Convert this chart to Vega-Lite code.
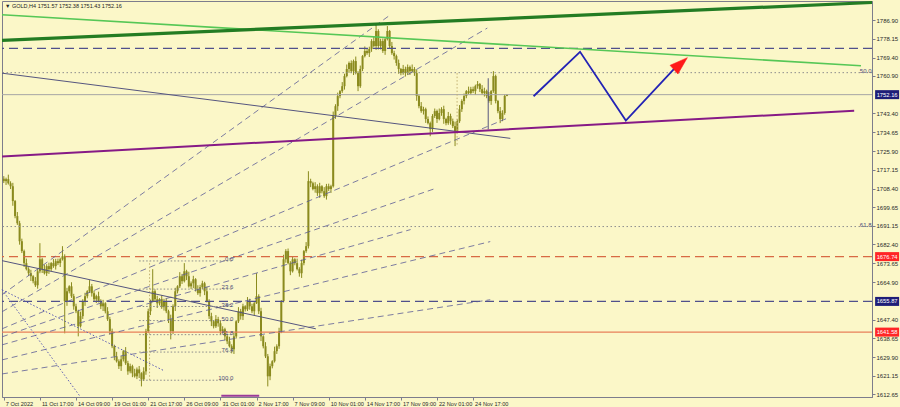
{
  "$schema": "https://vega.github.io/schema/vega-lite/v6.json",
  "width": 900,
  "height": 407,
  "autosize": {"type": "fit", "contains": "padding"},
  "padding": 0,
  "background": "#FBF7C8",
  "config": {
    "view": {"stroke": "#7d7d8c", "strokeWidth": 1},
    "axis": {"title": null, "grid": false, "labelFont": "Liberation Sans", "labelFontSize": 6, "labelColor": "#2a2a2a", "domainColor": "#7d7d8c", "tickColor": "#7d7d8c", "tickSize": 3, "labelOverlap": false},
    "axisX": {"labelFontSize": 5.6},
    "text": {"font": "Liberation Sans"}
  },
  "datasets": {
    "bars": [
      {"i":0,"o":1713.0,"h":1714.2,"l":1711.0,"c":1711.9},
      {"i":1,"o":1711.9,"h":1713.5,"l":1710.1,"c":1712.8},
      {"i":2,"o":1712.8,"h":1714.9,"l":1710.3,"c":1710.9},
      {"i":3,"o":1710.9,"h":1711.8,"l":1708.2,"c":1709.5},
      {"i":4,"o":1709.5,"h":1711.1,"l":1700.4,"c":1702.6},
      {"i":5,"o":1702.6,"h":1703.1,"l":1694.6,"c":1695.6},
      {"i":6,"o":1695.6,"h":1697.5,"l":1691.5,"c":1692.3},
      {"i":7,"o":1692.3,"h":1693.4,"l":1682.3,"c":1683.9},
      {"i":8,"o":1683.9,"h":1685.1,"l":1678.4,"c":1679.3},
      {"i":9,"o":1679.3,"h":1680.0,"l":1671.9,"c":1673.7},
      {"i":10,"o":1673.7,"h":1675.8,"l":1670.3,"c":1670.9},
      {"i":11,"o":1670.9,"h":1671.8,"l":1667.7,"c":1669.0},
      {"i":12,"o":1669.0,"h":1670.6,"l":1665.4,"c":1667.6},
      {"i":13,"o":1667.6,"h":1668.1,"l":1664.3,"c":1665.3},
      {"i":14,"o":1665.3,"h":1667.2,"l":1662.6,"c":1663.4},
      {"i":15,"o":1663.4,"h":1671.0,"l":1661.8,"c":1669.9},
      {"i":16,"o":1669.9,"h":1683.0,"l":1669.0,"c":1675.5},
      {"i":17,"o":1675.5,"h":1676.2,"l":1669.1,"c":1670.9},
      {"i":18,"o":1670.9,"h":1673.0,"l":1668.4,"c":1669.0},
      {"i":19,"o":1669.0,"h":1673.2,"l":1667.7,"c":1672.3},
      {"i":20,"o":1672.3,"h":1673.9,"l":1668.7,"c":1670.9},
      {"i":21,"o":1670.9,"h":1674.2,"l":1669.9,"c":1673.7},
      {"i":22,"o":1673.7,"h":1675.6,"l":1671.5,"c":1672.3},
      {"i":23,"o":1672.3,"h":1675.7,"l":1670.7,"c":1674.6},
      {"i":24,"o":1674.6,"h":1675.8,"l":1672.8,"c":1673.7},
      {"i":25,"o":1673.7,"h":1676.2,"l":1671.9,"c":1675.5},
      {"i":26,"o":1675.5,"h":1681.6,"l":1674.9,"c":1676.9},
      {"i":27,"o":1676.9,"h":1677.8,"l":1641.0,"c":1656.0},
      {"i":28,"o":1656.0,"h":1662.2,"l":1653.8,"c":1660.6},
      {"i":29,"o":1660.6,"h":1663.4,"l":1659.6,"c":1662.9},
      {"i":30,"o":1662.9,"h":1664.8,"l":1657.5,"c":1658.3},
      {"i":31,"o":1658.3,"h":1659.4,"l":1652.0,"c":1653.6},
      {"i":32,"o":1653.6,"h":1654.8,"l":1650.4,"c":1651.3},
      {"i":33,"o":1651.3,"h":1652.0,"l":1639.6,"c":1644.3},
      {"i":34,"o":1644.3,"h":1651.1,"l":1643.7,"c":1649.0},
      {"i":35,"o":1649.0,"h":1656.9,"l":1647.7,"c":1656.0},
      {"i":36,"o":1656.0,"h":1659.9,"l":1653.8,"c":1658.3},
      {"i":37,"o":1658.3,"h":1661.1,"l":1657.3,"c":1660.6},
      {"i":38,"o":1660.6,"h":1665.8,"l":1659.8,"c":1662.9},
      {"i":39,"o":1662.9,"h":1664.0,"l":1658.1,"c":1659.7},
      {"i":40,"o":1659.7,"h":1660.9,"l":1656.0,"c":1656.9},
      {"i":41,"o":1656.9,"h":1659.0,"l":1655.1,"c":1658.3},
      {"i":42,"o":1658.3,"h":1660.4,"l":1655.4,"c":1656.0},
      {"i":43,"o":1656.0,"h":1656.9,"l":1652.3,"c":1653.6},
      {"i":44,"o":1653.6,"h":1656.6,"l":1651.4,"c":1655.0},
      {"i":45,"o":1655.0,"h":1655.5,"l":1650.3,"c":1651.3},
      {"i":46,"o":1651.3,"h":1653.2,"l":1646.8,"c":1647.6},
      {"i":47,"o":1647.6,"h":1648.7,"l":1640.4,"c":1642.0},
      {"i":48,"o":1642.0,"h":1643.2,"l":1634.1,"c":1635.0},
      {"i":49,"o":1635.0,"h":1635.7,"l":1628.5,"c":1630.3},
      {"i":50,"o":1630.3,"h":1632.4,"l":1627.4,"c":1628.0},
      {"i":51,"o":1628.0,"h":1628.9,"l":1624.4,"c":1625.7},
      {"i":52,"o":1625.7,"h":1630.5,"l":1623.5,"c":1628.9},
      {"i":53,"o":1628.9,"h":1633.2,"l":1627.9,"c":1632.7},
      {"i":54,"o":1632.7,"h":1634.6,"l":1626.3,"c":1627.1},
      {"i":55,"o":1627.1,"h":1628.2,"l":1621.7,"c":1623.3},
      {"i":56,"o":1623.3,"h":1626.9,"l":1622.4,"c":1625.7},
      {"i":57,"o":1625.7,"h":1626.4,"l":1620.6,"c":1622.4},
      {"i":58,"o":1622.4,"h":1624.5,"l":1620.4,"c":1621.0},
      {"i":59,"o":1621.0,"h":1625.1,"l":1619.7,"c":1624.2},
      {"i":60,"o":1624.2,"h":1625.8,"l":1620.2,"c":1622.4},
      {"i":61,"o":1622.4,"h":1622.9,"l":1616.3,"c":1619.6},
      {"i":62,"o":1619.6,"h":1625.2,"l":1618.8,"c":1623.3},
      {"i":63,"o":1623.3,"h":1643.1,"l":1621.7,"c":1642.0},
      {"i":64,"o":1642.0,"h":1652.5,"l":1641.1,"c":1651.3},
      {"i":65,"o":1651.3,"h":1656.7,"l":1649.5,"c":1656.0},
      {"i":66,"o":1656.0,"h":1670.9,"l":1655.4,"c":1660.6},
      {"i":67,"o":1660.6,"h":1661.5,"l":1655.6,"c":1656.9},
      {"i":68,"o":1656.9,"h":1658.5,"l":1652.8,"c":1655.0},
      {"i":69,"o":1655.0,"h":1657.4,"l":1654.0,"c":1656.9},
      {"i":70,"o":1656.9,"h":1658.8,"l":1652.4,"c":1653.2},
      {"i":71,"o":1653.2,"h":1657.1,"l":1651.6,"c":1656.0},
      {"i":72,"o":1656.0,"h":1657.2,"l":1650.4,"c":1651.3},
      {"i":73,"o":1651.3,"h":1652.0,"l":1645.8,"c":1647.6},
      {"i":74,"o":1647.6,"h":1649.7,"l":1638.2,"c":1642.0},
      {"i":75,"o":1642.0,"h":1654.5,"l":1640.7,"c":1653.6},
      {"i":76,"o":1653.6,"h":1662.2,"l":1651.4,"c":1660.6},
      {"i":77,"o":1660.6,"h":1663.4,"l":1659.6,"c":1662.9},
      {"i":78,"o":1662.9,"h":1669.5,"l":1662.1,"c":1667.6},
      {"i":79,"o":1667.6,"h":1668.7,"l":1664.0,"c":1665.3},
      {"i":80,"o":1665.3,"h":1673.7,"l":1664.7,"c":1669.9},
      {"i":81,"o":1669.9,"h":1670.6,"l":1665.8,"c":1667.6},
      {"i":82,"o":1667.6,"h":1669.7,"l":1662.3,"c":1662.9},
      {"i":83,"o":1662.9,"h":1665.2,"l":1661.6,"c":1664.3},
      {"i":84,"o":1664.3,"h":1667.8,"l":1662.1,"c":1666.2},
      {"i":85,"o":1666.2,"h":1666.7,"l":1660.5,"c":1661.5},
      {"i":86,"o":1661.5,"h":1663.4,"l":1658.9,"c":1659.7},
      {"i":87,"o":1659.7,"h":1663.6,"l":1658.1,"c":1662.5},
      {"i":88,"o":1662.5,"h":1665.5,"l":1661.6,"c":1664.3},
      {"i":89,"o":1664.3,"h":1665.0,"l":1658.8,"c":1660.6},
      {"i":90,"o":1660.6,"h":1662.7,"l":1655.4,"c":1656.0},
      {"i":91,"o":1656.0,"h":1656.9,"l":1647.7,"c":1649.0},
      {"i":92,"o":1649.0,"h":1650.6,"l":1644.4,"c":1646.6},
      {"i":93,"o":1646.6,"h":1647.1,"l":1643.3,"c":1644.3},
      {"i":94,"o":1644.3,"h":1649.5,"l":1643.5,"c":1647.6},
      {"i":95,"o":1647.6,"h":1648.7,"l":1644.1,"c":1645.7},
      {"i":96,"o":1645.7,"h":1646.8,"l":1640.4,"c":1642.0},
      {"i":97,"o":1642.0,"h":1644.3,"l":1641.1,"c":1642.9},
      {"i":98,"o":1642.9,"h":1643.6,"l":1637.8,"c":1639.6},
      {"i":99,"o":1639.6,"h":1640.5,"l":1636.0,"c":1637.3},
      {"i":100,"o":1637.3,"h":1639.4,"l":1634.4,"c":1635.0},
      {"i":101,"o":1635.0,"h":1635.9,"l":1631.7,"c":1633.6},
      {"i":102,"o":1633.6,"h":1641.2,"l":1631.4,"c":1639.6},
      {"i":103,"o":1639.6,"h":1647.1,"l":1638.6,"c":1646.6},
      {"i":104,"o":1646.6,"h":1653.2,"l":1645.8,"c":1651.3},
      {"i":105,"o":1651.3,"h":1652.4,"l":1647.4,"c":1649.0},
      {"i":106,"o":1649.0,"h":1654.8,"l":1647.2,"c":1653.6},
      {"i":107,"o":1653.6,"h":1654.1,"l":1651.2,"c":1652.2},
      {"i":108,"o":1652.2,"h":1657.9,"l":1651.4,"c":1656.0},
      {"i":109,"o":1656.0,"h":1657.1,"l":1652.0,"c":1653.6},
      {"i":110,"o":1653.6,"h":1654.8,"l":1650.4,"c":1651.3},
      {"i":111,"o":1651.3,"h":1655.7,"l":1649.5,"c":1655.0},
      {"i":112,"o":1655.0,"h":1669.0,"l":1654.7,"c":1658.3},
      {"i":113,"o":1658.3,"h":1659.2,"l":1650.0,"c":1651.3},
      {"i":114,"o":1651.3,"h":1652.9,"l":1637.4,"c":1639.6},
      {"i":115,"o":1639.6,"h":1640.1,"l":1634.0,"c":1635.0},
      {"i":116,"o":1635.0,"h":1636.9,"l":1629.5,"c":1630.3},
      {"i":117,"o":1630.3,"h":1631.4,"l":1616.3,"c":1621.0},
      {"i":118,"o":1621.0,"h":1626.9,"l":1619.2,"c":1625.7},
      {"i":119,"o":1625.7,"h":1628.5,"l":1624.7,"c":1628.0},
      {"i":120,"o":1628.0,"h":1634.8,"l":1627.4,"c":1632.7},
      {"i":121,"o":1632.7,"h":1635.9,"l":1631.4,"c":1635.0},
      {"i":122,"o":1635.0,"h":1643.6,"l":1633.8,"c":1642.0},
      {"i":123,"o":1642.0,"h":1656.5,"l":1641.1,"c":1656.0},
      {"i":124,"o":1656.0,"h":1677.6,"l":1655.4,"c":1675.5},
      {"i":125,"o":1675.5,"h":1680.2,"l":1673.9,"c":1679.3},
      {"i":126,"o":1679.3,"h":1680.5,"l":1673.1,"c":1673.7},
      {"i":127,"o":1673.7,"h":1674.6,"l":1668.1,"c":1669.9},
      {"i":128,"o":1669.9,"h":1676.9,"l":1669.3,"c":1675.5},
      {"i":129,"o":1675.5,"h":1676.0,"l":1672.7,"c":1673.7},
      {"i":130,"o":1673.7,"h":1675.8,"l":1670.3,"c":1670.9},
      {"i":131,"o":1670.9,"h":1671.8,"l":1667.4,"c":1669.0},
      {"i":132,"o":1669.0,"h":1675.3,"l":1666.8,"c":1673.7},
      {"i":133,"o":1673.7,"h":1679.8,"l":1672.7,"c":1679.3},
      {"i":134,"o":1679.3,"h":1683.5,"l":1678.5,"c":1681.6},
      {"i":135,"o":1681.6,"h":1716.5,"l":1680.5,"c":1711.9},
      {"i":136,"o":1711.9,"h":1713.0,"l":1709.1,"c":1710.9},
      {"i":137,"o":1710.9,"h":1711.6,"l":1707.6,"c":1708.2},
      {"i":138,"o":1708.2,"h":1711.4,"l":1706.5,"c":1709.5},
      {"i":139,"o":1709.5,"h":1710.4,"l":1705.0,"c":1706.3},
      {"i":140,"o":1706.3,"h":1711.1,"l":1704.1,"c":1709.5},
      {"i":141,"o":1709.5,"h":1710.0,"l":1706.2,"c":1707.2},
      {"i":142,"o":1707.2,"h":1709.1,"l":1704.1,"c":1704.9},
      {"i":143,"o":1704.9,"h":1710.6,"l":1703.3,"c":1709.5},
      {"i":144,"o":1709.5,"h":1710.7,"l":1707.3,"c":1708.2},
      {"i":145,"o":1708.2,"h":1710.2,"l":1706.4,"c":1709.5},
      {"i":146,"o":1709.5,"h":1744.3,"l":1708.9,"c":1742.2},
      {"i":147,"o":1742.2,"h":1747.7,"l":1740.9,"c":1746.8},
      {"i":148,"o":1746.8,"h":1753.1,"l":1744.6,"c":1751.5},
      {"i":149,"o":1751.5,"h":1754.3,"l":1750.5,"c":1753.8},
      {"i":150,"o":1753.8,"h":1758.0,"l":1753.0,"c":1756.1},
      {"i":151,"o":1756.1,"h":1761.9,"l":1754.5,"c":1760.8},
      {"i":152,"o":1760.8,"h":1766.2,"l":1760.2,"c":1764.1},
      {"i":153,"o":1764.1,"h":1767.6,"l":1762.3,"c":1766.9},
      {"i":154,"o":1766.9,"h":1768.1,"l":1762.2,"c":1763.1},
      {"i":155,"o":1763.1,"h":1768.5,"l":1761.3,"c":1767.8},
      {"i":156,"o":1767.8,"h":1769.9,"l":1761.6,"c":1762.2},
      {"i":157,"o":1762.2,"h":1763.1,"l":1753.8,"c":1756.1},
      {"i":158,"o":1756.1,"h":1765.7,"l":1755.3,"c":1764.1},
      {"i":159,"o":1764.1,"h":1770.6,"l":1763.1,"c":1770.1},
      {"i":160,"o":1770.1,"h":1774.6,"l":1769.5,"c":1772.5},
      {"i":161,"o":1772.5,"h":1773.4,"l":1770.7,"c":1771.5},
      {"i":162,"o":1771.5,"h":1774.5,"l":1769.7,"c":1773.4},
      {"i":163,"o":1773.4,"h":1778.0,"l":1772.1,"c":1777.1},
      {"i":164,"o":1777.1,"h":1779.2,"l":1774.2,"c":1774.8},
      {"i":165,"o":1774.8,"h":1785.5,"l":1773.0,"c":1781.8},
      {"i":166,"o":1781.8,"h":1782.6,"l":1773.2,"c":1774.8},
      {"i":167,"o":1774.8,"h":1778.2,"l":1773.2,"c":1777.1},
      {"i":168,"o":1777.1,"h":1778.3,"l":1771.6,"c":1772.5},
      {"i":169,"o":1772.5,"h":1778.7,"l":1770.7,"c":1778.0},
      {"i":170,"o":1778.0,"h":1784.1,"l":1777.4,"c":1781.8},
      {"i":171,"o":1781.8,"h":1782.3,"l":1773.8,"c":1774.8},
      {"i":172,"o":1774.8,"h":1776.7,"l":1770.7,"c":1771.5},
      {"i":173,"o":1771.5,"h":1772.6,"l":1768.5,"c":1770.1},
      {"i":174,"o":1770.1,"h":1770.8,"l":1765.6,"c":1766.9},
      {"i":175,"o":1766.9,"h":1768.5,"l":1761.9,"c":1764.1},
      {"i":176,"o":1764.1,"h":1764.6,"l":1761.2,"c":1762.2},
      {"i":177,"o":1762.2,"h":1766.0,"l":1761.4,"c":1764.1},
      {"i":178,"o":1764.1,"h":1765.2,"l":1760.6,"c":1762.2},
      {"i":179,"o":1762.2,"h":1766.2,"l":1761.3,"c":1765.0},
      {"i":180,"o":1765.0,"h":1765.7,"l":1761.3,"c":1763.1},
      {"i":181,"o":1763.1,"h":1766.2,"l":1762.5,"c":1764.1},
      {"i":182,"o":1764.1,"h":1765.0,"l":1760.9,"c":1762.2},
      {"i":183,"o":1762.2,"h":1763.8,"l":1749.3,"c":1751.5},
      {"i":184,"o":1751.5,"h":1752.0,"l":1745.8,"c":1746.8},
      {"i":185,"o":1746.8,"h":1748.7,"l":1743.7,"c":1744.5},
      {"i":186,"o":1744.5,"h":1746.5,"l":1742.9,"c":1745.4},
      {"i":187,"o":1745.4,"h":1746.1,"l":1739.0,"c":1740.8},
      {"i":188,"o":1740.8,"h":1742.0,"l":1738.3,"c":1738.9},
      {"i":189,"o":1738.9,"h":1739.6,"l":1732.8,"c":1736.1},
      {"i":190,"o":1736.1,"h":1743.1,"l":1734.8,"c":1742.2},
      {"i":191,"o":1742.2,"h":1745.7,"l":1741.3,"c":1744.5},
      {"i":192,"o":1744.5,"h":1745.2,"l":1739.0,"c":1740.8},
      {"i":193,"o":1740.8,"h":1745.7,"l":1740.2,"c":1743.6},
      {"i":194,"o":1743.6,"h":1746.3,"l":1742.3,"c":1745.4},
      {"i":195,"o":1745.4,"h":1747.0,"l":1738.6,"c":1740.8},
      {"i":196,"o":1740.8,"h":1741.4,"l":1737.9,"c":1738.9},
      {"i":197,"o":1738.9,"h":1744.1,"l":1738.1,"c":1742.2},
      {"i":198,"o":1742.2,"h":1743.3,"l":1738.2,"c":1739.8},
      {"i":199,"o":1739.8,"h":1741.0,"l":1736.6,"c":1737.5},
      {"i":200,"o":1737.5,"h":1739.6,"l":1728.2,"c":1735.2},
      {"i":201,"o":1735.2,"h":1740.7,"l":1734.5,"c":1739.8},
      {"i":202,"o":1739.8,"h":1747.3,"l":1739.0,"c":1745.4},
      {"i":203,"o":1745.4,"h":1750.0,"l":1744.1,"c":1749.2},
      {"i":204,"o":1749.2,"h":1752.7,"l":1747.6,"c":1751.5},
      {"i":205,"o":1751.5,"h":1754.3,"l":1750.5,"c":1753.8},
      {"i":206,"o":1753.8,"h":1755.9,"l":1752.3,"c":1752.9},
      {"i":207,"o":1752.9,"h":1755.8,"l":1752.1,"c":1754.7},
      {"i":208,"o":1754.7,"h":1755.9,"l":1752.9,"c":1753.8},
      {"i":209,"o":1753.8,"h":1756.8,"l":1752.0,"c":1756.1},
      {"i":210,"o":1756.1,"h":1758.5,"l":1754.9,"c":1757.1},
      {"i":211,"o":1757.1,"h":1757.6,"l":1753.4,"c":1754.7},
      {"i":212,"o":1754.7,"h":1756.6,"l":1752.1,"c":1752.9},
      {"i":213,"o":1752.9,"h":1755.4,"l":1751.3,"c":1753.8},
      {"i":214,"o":1753.8,"h":1754.5,"l":1750.5,"c":1751.5},
      {"i":215,"o":1751.5,"h":1753.4,"l":1748.4,"c":1749.2},
      {"i":216,"o":1749.2,"h":1754.3,"l":1747.4,"c":1753.8},
      {"i":217,"o":1753.8,"h":1763.1,"l":1753.0,"c":1760.8},
      {"i":218,"o":1760.8,"h":1761.5,"l":1748.1,"c":1749.2},
      {"i":219,"o":1749.2,"h":1749.7,"l":1743.5,"c":1744.5},
      {"i":220,"o":1744.5,"h":1746.4,"l":1738.9,"c":1740.8},
      {"i":221,"o":1740.8,"h":1744.9,"l":1739.8,"c":1743.6},
      {"i":222,"o":1743.6,"h":1752.2,"l":1742.8,"c":1751.57},
      {"i":223,"o":1751.57,"h":1752.38,"l":1751.43,"c":1752.16}
    ],
    "levels": [
      {"k":"nd","p":1773.69},
      {"k":"nd","p":1655.87},
      {"k":"rd","p":1676.74},
      {"k":"rs","p":1641.58},
      {"k":"bid","p":1752.16},
      {"k":"dot","p":1762.4},
      {"k":"dot","p":1690.73}
    ],
    "lines": [
      {"k":"tg","i":-0.8,"p":1777.42,"i2":384.8,"p2":1795.07},
      {"k":"lg","i":-0.8,"p":1789.37,"i2":379.9,"p2":1765.61},
      {"k":"pu","i":-0.8,"p":1723.41,"i2":376.9,"p2":1744.65},
      {"k":"nv","i":-0.8,"p":1762.16,"i2":224.5,"p2":1731.81},
      {"k":"nv","i":-0.8,"p":1674.86,"i2":138.3,"p2":1643.11},
      {"k":"nv","i":214.7,"p":1759.8,"i2":214.7,"p2":1736.0},
      {"k":"fan","i":-0.8,"p":1658.98,"i2":170.6,"p2":1788.77},
      {"k":"fan","i":-0.8,"p":1651.05,"i2":214.3,"p2":1783.17},
      {"k":"fan","i":-0.8,"p":1643.11,"i2":223.1,"p2":1741.15},
      {"k":"fan","i":-0.8,"p":1639.37,"i2":191.3,"p2":1708.47},
      {"k":"fan","i":-0.8,"p":1635.64,"i2":180.3,"p2":1689.33},
      {"k":"fan","i":-0.8,"p":1628.64,"i2":215.6,"p2":1683.73},
      {"k":"fan","i":-0.8,"p":1622.10,"i2":215.6,"p2":1656.65},
      {"k":"dn","i":-0.8,"p":1661.32,"i2":34.0,"p2":1611.36},
      {"k":"dn","i":-0.8,"p":1661.32,"i2":71.2,"p2":1623.5},
      {"k":"fv","i":200.9,"p":1728.9,"i2":200.9,"p2":1762.4},
      {"k":"fv","i":64.6,"p":1619.17,"i2":64.6,"p2":1674.72},
      {"k":"pb","i":96.4,"p":1611.9,"i2":113.2,"p2":1611.9}
    ],
    "fibSmall": [
      {"t":"0.0","p":1674.72},
      {"t":"23.6","p":1661.61},
      {"t":"38.2","p":1653.50},
      {"t":"50.0","p":1646.95},
      {"t":"61.8","p":1640.39},
      {"t":"76.4","p":1632.28},
      {"t":"100.0","p":1619.17}
    ],
    "fibBig": [
      {"t":"50.0","p":1762.4},
      {"t":"61.8","p":1690.73}
    ],
    "zig": [
      {"n":1,"i":234.8,"p":1751.42},
      {"n":2,"i":255.4,"p":1772.10},
      {"n":3,"i":275.7,"p":1740.07},
      {"n":4,"i":297.3,"p":1764.35}
    ],
    "arrow": [
      {"i":300.0,"p":1766.59}
    ],
    "tags": [
      {"t":"1752.16","p":1752.16,"k":"n"},
      {"t":"1676.74","p":1676.74,"k":"r"},
      {"t":"1655.87","p":1655.87,"k":"n"},
      {"t":"1641.58","p":1641.58,"k":"r"}
    ],
    "header": [
      {"t":"▼ GOLD,H4  1751.57 1752.38 1751.43 1752.16"}
    ]
  },
  "layer": [
    {
      "data": {"name": "bars"},
      "mark": {"type": "rule", "color": "#8a8a1e", "strokeWidth": 1},
      "encoding": {
        "x": {"field": "i", "type": "quantitative", "scale": {"domain": [-0.8, 384.8], "nice": false, "zero": false},
          "axis": {"orient": "bottom", "values": [0,16,32,48,64,80,96,112,128,144,160,176,192,208], "tickCount": 40,
            "labelExpr": "['7 Oct 2022','11 Oct 17:00','14 Oct 09:00','19 Oct 01:00','21 Oct 17:00','26 Oct 09:00','31 Oct 01:00','2 Nov 17:00','7 Nov 09:00','10 Nov 01:00','14 Nov 17:00','17 Nov 09:00','22 Nov 01:00','24 Nov 17:00'][round(datum.value/16)]",
            "labelAlign": "left", "labelOffset": 1.5, "labelPadding": 1, "labelOverlap": false, "labelFlush": false, "labelBound": false}},
        "y": {"field": "l", "type": "quantitative", "scale": {"domain": [1611.36, 1795.77], "nice": false, "zero": false},
          "axis": {"orient": "right", "values": [1786.90,1778.15,1769.40,1760.90,1743.40,1734.65,1725.90,1717.15,1708.40,1699.65,1691.15,1682.40,1673.65,1664.90,1647.40,1638.65,1629.90,1621.15,1612.65], "tickCount": 40,
            "format": ".2f", "labelPadding": 1, "labelOverlap": false, "labelBound": false}},
        "y2": {"field": "h"}
      }
    },
    {
      "data": {"name": "bars"},
      "mark": {"type": "rule", "color": "#8a8a1e", "strokeWidth": 2},
      "encoding": {
        "x": {"field": "i", "type": "quantitative", "scale": {"domain": [-0.8, 384.8], "nice": false, "zero": false}},
        "y": {"field": "o", "type": "quantitative", "scale": {"domain": [1611.36, 1795.77], "nice": false, "zero": false}},
        "y2": {"field": "c"}
      }
    },
    {
      "data": {"name": "levels"},
      "transform": [{"filter": "datum.k === 'nd'"}],
      "mark": {"type": "rule", "color": "#50508c", "strokeWidth": 1.1, "strokeDash": [9, 5]},
      "encoding": {"y": {"field": "p", "type": "quantitative", "scale": {"domain": [1611.36, 1795.77], "nice": false, "zero": false}}}
    },
    {
      "data": {"name": "levels"},
      "transform": [{"filter": "datum.k === 'rd'"}],
      "mark": {"type": "rule", "color": "#d86a44", "strokeWidth": 1.1, "strokeDash": [9, 5]},
      "encoding": {"y": {"field": "p", "type": "quantitative", "scale": {"domain": [1611.36, 1795.77], "nice": false, "zero": false}}}
    },
    {
      "data": {"name": "levels"},
      "transform": [{"filter": "datum.k === 'rs'"}],
      "mark": {"type": "rule", "color": "#e8805a", "strokeWidth": 1.1},
      "encoding": {"y": {"field": "p", "type": "quantitative", "scale": {"domain": [1611.36, 1795.77], "nice": false, "zero": false}}}
    },
    {
      "data": {"name": "levels"},
      "transform": [{"filter": "datum.k === 'bid'"}],
      "mark": {"type": "rule", "color": "#a6a6a6", "strokeWidth": 1},
      "encoding": {"y": {"field": "p", "type": "quantitative", "scale": {"domain": [1611.36, 1795.77], "nice": false, "zero": false}}}
    },
    {
      "data": {"name": "levels"},
      "transform": [{"filter": "datum.k === 'dot'"}],
      "mark": {"type": "rule", "color": "#8e8e8e", "strokeWidth": 1, "strokeDash": [1.5, 2.5]},
      "encoding": {"y": {"field": "p", "type": "quantitative", "scale": {"domain": [1611.36, 1795.77], "nice": false, "zero": false}}}
    },
    {
      "data": {"name": "lines"},
      "transform": [{"filter": "datum.k === 'fan'"}],
      "mark": {"type": "rule", "color": "#5c5c96", "strokeWidth": 0.8, "strokeDash": [6, 4]},
      "encoding": {
        "x": {"field": "i", "type": "quantitative", "scale": {"domain": [-0.8, 384.8], "nice": false, "zero": false}},
        "y": {"field": "p", "type": "quantitative", "scale": {"domain": [1611.36, 1795.77], "nice": false, "zero": false}},
        "x2": {"field": "i2"}, "y2": {"field": "p2"}
      }
    },
    {
      "data": {"name": "lines"},
      "transform": [{"filter": "datum.k === 'dn'"}],
      "mark": {"type": "rule", "color": "#5a5ab4", "strokeWidth": 1, "strokeDash": [1.5, 2]},
      "encoding": {
        "x": {"field": "i", "type": "quantitative", "scale": {"domain": [-0.8, 384.8], "nice": false, "zero": false}},
        "y": {"field": "p", "type": "quantitative", "scale": {"domain": [1611.36, 1795.77], "nice": false, "zero": false}},
        "x2": {"field": "i2"}, "y2": {"field": "p2"}
      }
    },
    {
      "data": {"name": "lines"},
      "transform": [{"filter": "datum.k === 'fv'"}],
      "mark": {"type": "rule", "color": "#c2b070", "strokeWidth": 1, "strokeDash": [1.5, 2]},
      "encoding": {
        "x": {"field": "i", "type": "quantitative", "scale": {"domain": [-0.8, 384.8], "nice": false, "zero": false}},
        "y": {"field": "p", "type": "quantitative", "scale": {"domain": [1611.36, 1795.77], "nice": false, "zero": false}},
        "x2": {"field": "i2"}, "y2": {"field": "p2"}
      }
    },
    {
      "data": {"name": "lines"},
      "transform": [{"filter": "datum.k === 'nv'"}],
      "mark": {"type": "rule", "color": "#55557f", "strokeWidth": 1},
      "encoding": {
        "x": {"field": "i", "type": "quantitative", "scale": {"domain": [-0.8, 384.8], "nice": false, "zero": false}},
        "y": {"field": "p", "type": "quantitative", "scale": {"domain": [1611.36, 1795.77], "nice": false, "zero": false}},
        "x2": {"field": "i2"}, "y2": {"field": "p2"}
      }
    },
    {
      "data": {"name": "lines"},
      "transform": [{"filter": "datum.k === 'pb'"}],
      "mark": {"type": "rule", "color": "#9a3a9a", "strokeWidth": 2},
      "encoding": {
        "x": {"field": "i", "type": "quantitative", "scale": {"domain": [-0.8, 384.8], "nice": false, "zero": false}},
        "y": {"field": "p", "type": "quantitative", "scale": {"domain": [1611.36, 1795.77], "nice": false, "zero": false}},
        "x2": {"field": "i2"}, "y2": {"field": "p2"}
      }
    },
    {
      "data": {"name": "lines"},
      "transform": [{"filter": "datum.k === 'pu'"}],
      "mark": {"type": "rule", "color": "#861a86", "strokeWidth": 2},
      "encoding": {
        "x": {"field": "i", "type": "quantitative", "scale": {"domain": [-0.8, 384.8], "nice": false, "zero": false}},
        "y": {"field": "p", "type": "quantitative", "scale": {"domain": [1611.36, 1795.77], "nice": false, "zero": false}},
        "x2": {"field": "i2"}, "y2": {"field": "p2"}
      }
    },
    {
      "data": {"name": "lines"},
      "transform": [{"filter": "datum.k === 'lg'"}],
      "mark": {"type": "rule", "color": "#56c756", "strokeWidth": 1.6},
      "encoding": {
        "x": {"field": "i", "type": "quantitative", "scale": {"domain": [-0.8, 384.8], "nice": false, "zero": false}},
        "y": {"field": "p", "type": "quantitative", "scale": {"domain": [1611.36, 1795.77], "nice": false, "zero": false}},
        "x2": {"field": "i2"}, "y2": {"field": "p2"}
      }
    },
    {
      "data": {"name": "lines"},
      "transform": [{"filter": "datum.k === 'tg'"}],
      "mark": {"type": "rule", "color": "#237c23", "strokeWidth": 3.2},
      "encoding": {
        "x": {"field": "i", "type": "quantitative", "scale": {"domain": [-0.8, 384.8], "nice": false, "zero": false}},
        "y": {"field": "p", "type": "quantitative", "scale": {"domain": [1611.36, 1795.77], "nice": false, "zero": false}},
        "x2": {"field": "i2"}, "y2": {"field": "p2"}
      }
    },
    {
      "data": {"name": "fibSmall"},
      "mark": {"type": "rule", "color": "#8a8a8a", "strokeWidth": 1, "strokeDash": [1.5, 2]},
      "encoding": {
        "x": {"datum": 60, "type": "quantitative", "scale": {"domain": [-0.8, 384.8], "nice": false, "zero": false}},
        "x2": {"datum": 101.7},
        "y": {"field": "p", "type": "quantitative", "scale": {"domain": [1611.36, 1795.77], "nice": false, "zero": false}}
      }
    },
    {
      "data": {"name": "fibSmall"},
      "mark": {"type": "text", "color": "#4c4c78", "fontSize": 6, "align": "right", "baseline": "bottom", "dy": 1},
      "encoding": {
        "x": {"datum": 101.7, "type": "quantitative", "scale": {"domain": [-0.8, 384.8], "nice": false, "zero": false}},
        "y": {"field": "p", "type": "quantitative", "scale": {"domain": [1611.36, 1795.77], "nice": false, "zero": false}},
        "text": {"field": "t"}
      }
    },
    {
      "data": {"name": "fibBig"},
      "mark": {"type": "text", "color": "#4c4c78", "fontSize": 6, "align": "right", "baseline": "bottom", "dy": 1},
      "encoding": {
        "x": {"datum": 384.6, "type": "quantitative", "scale": {"domain": [-0.8, 384.8], "nice": false, "zero": false}},
        "y": {"field": "p", "type": "quantitative", "scale": {"domain": [1611.36, 1795.77], "nice": false, "zero": false}},
        "text": {"field": "t"}
      }
    },
    {
      "data": {"name": "zig"},
      "mark": {"type": "line", "color": "#2323b5", "strokeWidth": 1.8},
      "encoding": {
        "x": {"field": "i", "type": "quantitative", "scale": {"domain": [-0.8, 384.8], "nice": false, "zero": false}},
        "y": {"field": "p", "type": "quantitative", "scale": {"domain": [1611.36, 1795.77], "nice": false, "zero": false}},
        "order": {"field": "n"}
      }
    },
    {
      "data": {"name": "arrow"},
      "mark": {"type": "point", "shape": "M0,-1L0.65,1L-0.65,1Z", "size": 324, "angle": 48, "filled": true, "fill": "#ff1a1a", "stroke": "#ff1a1a", "strokeWidth": 0.5, "opacity": 1},
      "encoding": {
        "x": {"field": "i", "type": "quantitative", "scale": {"domain": [-0.8, 384.8], "nice": false, "zero": false}},
        "y": {"field": "p", "type": "quantitative", "scale": {"domain": [1611.36, 1795.77], "nice": false, "zero": false}}
      }
    },
    {
      "data": {"name": "tags"},
      "mark": {"type": "point", "shape": "M-1,-0.375L1,-0.375L1,0.375L-1,0.375Z", "size": 576, "filled": true, "opacity": 1, "strokeWidth": 0},
      "encoding": {
        "x": {"datum": 391.5, "type": "quantitative", "scale": {"domain": [-0.8, 384.8], "nice": false, "zero": false}},
        "y": {"field": "p", "type": "quantitative", "scale": {"domain": [1611.36, 1795.77], "nice": false, "zero": false}},
        "fill": {"condition": {"test": "datum.k === 'r'", "value": "#ff2626"}, "value": "#1e1e78"}
      }
    },
    {
      "data": {"name": "tags"},
      "mark": {"type": "text", "color": "#ffffff", "fontSize": 5.8, "align": "center", "baseline": "middle"},
      "encoding": {
        "x": {"datum": 391.5, "type": "quantitative", "scale": {"domain": [-0.8, 384.8], "nice": false, "zero": false}},
        "y": {"field": "p", "type": "quantitative", "scale": {"domain": [1611.36, 1795.77], "nice": false, "zero": false}},
        "text": {"field": "t"}
      }
    },
    {
      "data": {"name": "header"},
      "mark": {"type": "text", "color": "#222222", "fontSize": 5.5, "align": "left", "baseline": "top", "dx": 3, "dy": 2.5},
      "encoding": {
        "x": {"datum": -0.8, "type": "quantitative", "scale": {"domain": [-0.8, 384.8], "nice": false, "zero": false}},
        "y": {"datum": 1795.77, "type": "quantitative", "scale": {"domain": [1611.36, 1795.77], "nice": false, "zero": false}},
        "text": {"field": "t"}
      }
    }
  ]
}
